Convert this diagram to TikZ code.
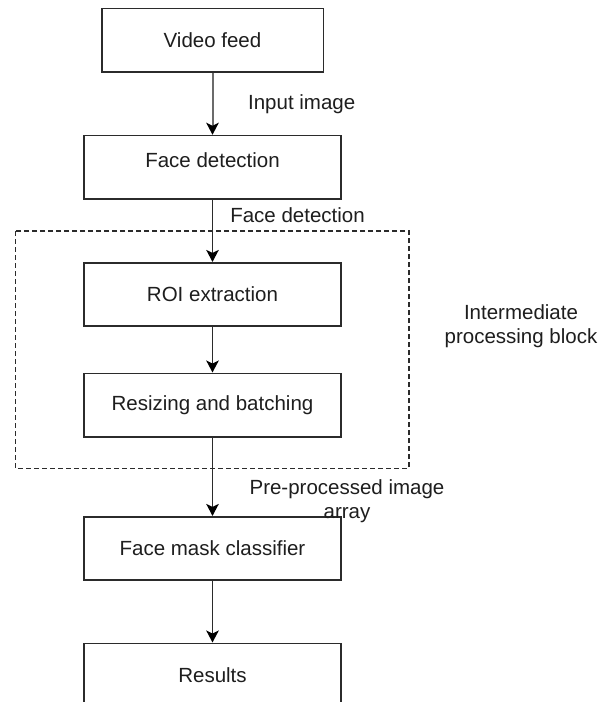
\documentclass[tikz,border=0pt]{standalone}
\usepackage{fontspec}
\setmainfont{Liberation Sans}
\usetikzlibrary{arrows.meta}
\definecolor{edge}{HTML}{2B2B2B}
\definecolor{txt}{HTML}{1E1E1E}
\tikzset{
  box/.style={draw=edge, line width=1.6pt, fill=white, rectangle, inner sep=0pt,
    minimum width=257pt, minimum height=63.3pt, text=txt,
    font=\fontsize{20.5}{24}\selectfont},
  lbl/.style={inner sep=0pt, text=txt, align=center,
    font=\fontsize{20.5}{24}\selectfont},
  flow/.style={draw=edge, line width=1.7pt, -{Stealth[length=12pt,width=12.5pt,inset=3pt,color=black]}},
  grayflow/.style={draw=black!58, line width=2pt, -{Stealth[length=12pt,width=12.5pt,inset=3pt,color=black]}},
  group/.style={draw=edge, line width=1.3pt, dash pattern=on 5pt off 3pt}
}
\begin{document}
\begin{tikzpicture}[x=1pt,y=-1pt]
\useasboundingbox (0,0) rectangle (611,702);
\clip (0,0) rectangle (611,702);
\fill[white] (0,0) rectangle (611,702);
% dashed group
\draw[group] (15.5,231) rectangle (409,468.3);
\node[lbl] (grp) at (521,326) {Intermediate\\processing block};
% boxes
\node[box, minimum width=221.6pt, minimum height=63.4pt] (video) at (212.5,40) {Video feed};
\node[box, minimum height=63.5pt] (face) at (212.5,167.3) {\raisebox{15pt}{Face detection}};
\node[box] (roi) at (212.5,294.4) {ROI extraction};
\node[box, minimum height=63.4pt] (resize) at (212.5,405) {Resizing and batching};
\node[box] (mask) at (212.5,548.4) {Face mask classifier};
\node[box, minimum height=63.4pt] (results) at (212.5,675) {Results};
% connectors
\draw[grayflow] (video) -- (face);
\draw[flow] (face) -- (roi);
\draw[flow] (roi) -- (resize);
\draw[flow] (resize) -- (mask);
\draw[flow] (mask) -- (results);
% labels
\node[lbl] (l1) at (301.7,104) {Input image};
\node[lbl] (l2) at (297.5,215) {Face detection};
\node[lbl] (l3) at (347,501) {Pre-processed image\\array};
\end{tikzpicture}
\end{document}
